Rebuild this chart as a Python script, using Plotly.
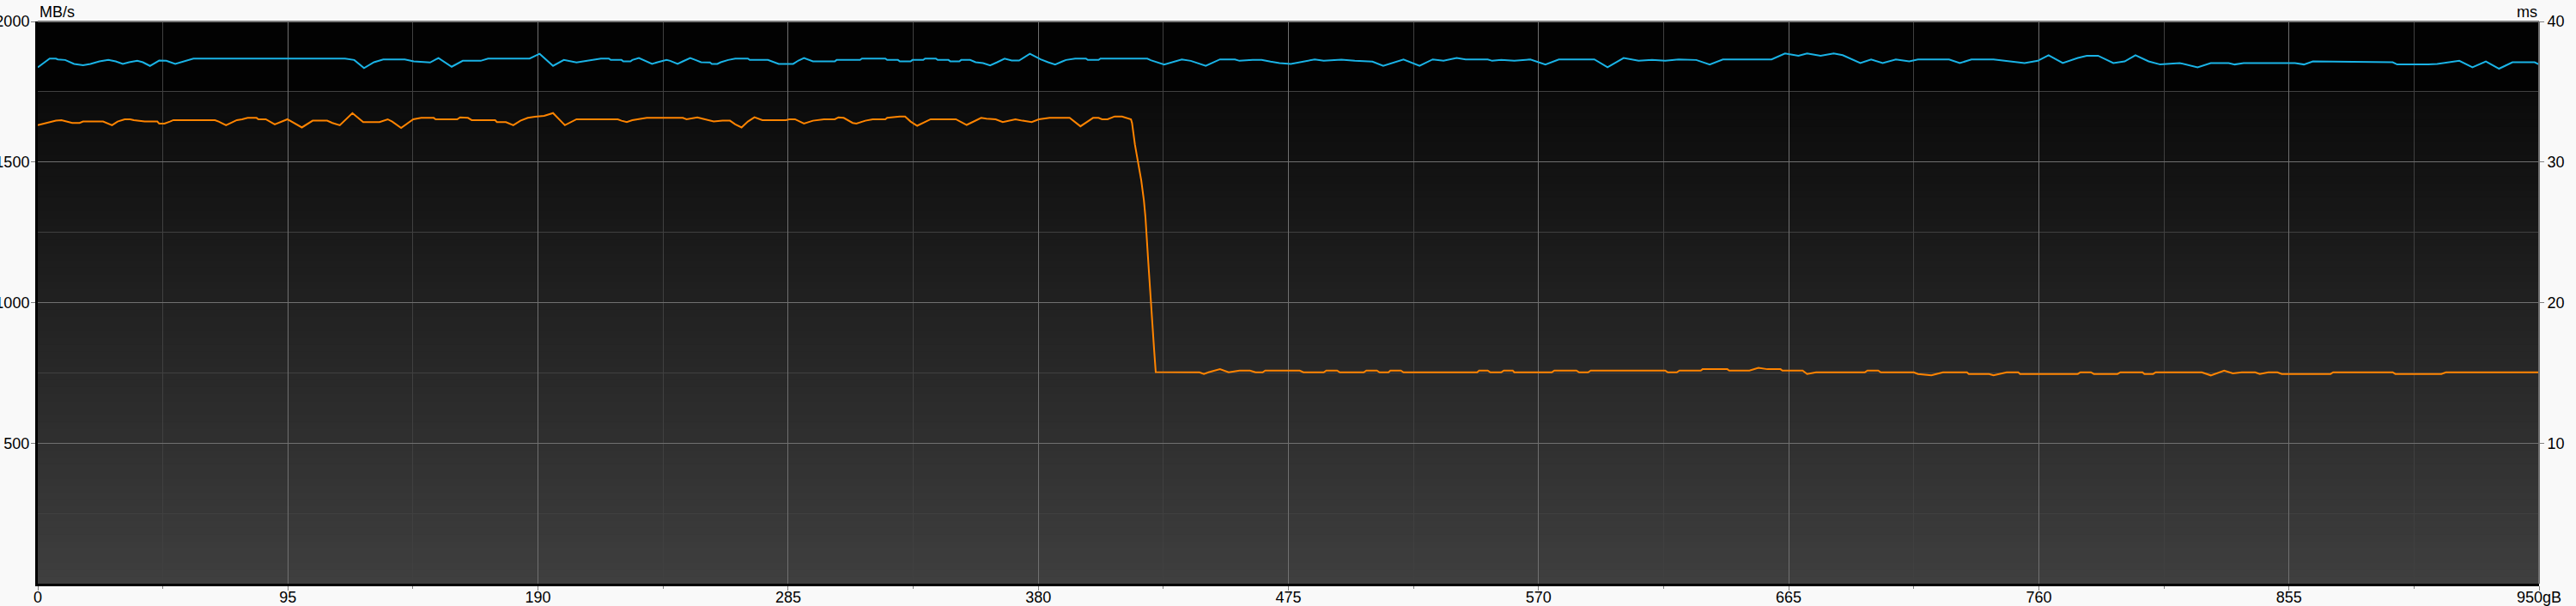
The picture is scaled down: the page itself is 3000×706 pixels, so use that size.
import plotly.graph_objects as go

# ---- data ----
x_label_alias = {"950": "950gB"}
y_left_ticks = [500, 1000, 1500, 2000]
y_left_minor = [250, 750, 1250, 1750]
y_right_ticks = [10, 20, 30, 40]

read_x = [0, 4.5, 6.9, 7.6, 10.4, 12.4, 13.8, 17.2, 20, 23.4, 26.8, 29.6, 32.3, 34.7, 37.8, 39.9, 42.6,
          46.1, 48.8, 52.2, 55, 59.1, 116.7, 120.2, 123.9, 127.7, 131.2, 139.4, 142.8, 149, 152.2, 157.2,
          161.4, 168.2, 171, 186.8, 190.6, 195.7, 199.8, 204.6, 208.7, 213.9,
          216.9, 217.6, 221.7, 222.4, 225.1, 225.8, 228.3, 230.6, 233.3, 235.4, 238.8, 240.2, 243, 245,
          247.8, 249.8, 251.9, 255.3, 256, 258.1, 259.4, 262.2, 264.9, 269.7, 270.4, 277.3, 279.3, 281.4,
          286.9, 288.9, 291, 293.1, 294.4, 302.7, 303.4, 312.3, 313, 321.9, 322.6, 326.7, 327.4, 331.5,
          332.2, 336.3, 337, 341.1, 341.8, 345.9, 346.6, 350, 350.7, 354.1, 356.2, 359, 361.7, 364.4,
          367.2, 369.9, 372.7, 376.8, 380.9, 383.7, 386.4, 389.2, 390.5, 394, 398.1, 398.8, 402.9, 403.6,
          421.4, 422.7,
          427.8, 434.5, 437.9, 443.6, 449, 454.7, 456.4, 461.4, 464.8, 468.2, 471.6, 475.9, 481.7, 485,
          488.4, 495.1, 500.2, 506.9, 511, 518.7, 524.8, 529.8, 533.9, 538.9, 542.3, 550.7, 552.4, 555.8,
          560.8, 566.9, 572.6, 577.7, 591.2, 596.2, 602.3, 608, 613.1, 618.1, 623.2, 629.9, 635, 640,
          658.5, 663.6, 668.7, 672, 677.1, 682.1, 685.5, 692.2, 696.3, 700.7, 705.7, 710.8, 714.1, 725.9,
          730, 734.4, 742.8, 749.5, 754.6, 759.6, 763.7, 769.1, 774.8, 778.2, 782.5, 788.3, 792.6, 796.7,
          801.7, 806.1, 813.5, 820.3, 825.3, 832.1, 834.4, 837.8, 857.3, 860.7, 864.1, 894.4, 896.1, 907.9,
          911.3, 919.7, 924.7, 929.8, 934.8, 939.9, 948.3, 950]
read_y = [1837, 1868, 1868, 1865, 1863, 1855, 1849, 1844, 1849, 1858, 1863, 1858, 1849, 1855, 1860, 1855, 1842,
          1861, 1860, 1849, 1857, 1868, 1868, 1863, 1834, 1855, 1865, 1865, 1858, 1854, 1870, 1839,
          1860, 1860, 1868, 1868, 1885, 1842, 1863, 1854, 1860, 1868,
          1868, 1863, 1863, 1858, 1858, 1863, 1870, 1861, 1849, 1855, 1863, 1860, 1849, 1858,
          1870, 1863, 1855, 1854, 1849, 1849, 1855, 1863, 1868, 1868, 1863, 1863, 1855, 1849,
          1849, 1861, 1870, 1863, 1858, 1858, 1863, 1863, 1868, 1868, 1863, 1863, 1858, 1858,
          1863, 1863, 1868, 1868, 1863, 1863, 1858, 1858, 1863, 1863, 1855, 1852, 1844, 1855,
          1868, 1861, 1861, 1885, 1865, 1855, 1847, 1858, 1863, 1868, 1868, 1863, 1863, 1868,
          1868, 1862,
          1847, 1865, 1860, 1842, 1865, 1865, 1860, 1863, 1863, 1857, 1852, 1849, 1860, 1865,
          1860, 1864, 1860, 1857, 1842, 1865, 1842, 1865, 1860, 1870, 1865, 1865, 1860, 1863,
          1860, 1865, 1847, 1865, 1865, 1837, 1870, 1860, 1863, 1860, 1865, 1863, 1847, 1865,
          1865, 1886, 1878, 1886, 1878, 1886, 1880, 1852, 1865, 1852, 1865, 1858, 1865, 1865,
          1852, 1865, 1865, 1858, 1852, 1860, 1880, 1852, 1870, 1878, 1878, 1852, 1858, 1880,
          1858, 1847, 1852, 1837, 1852, 1852, 1847, 1852, 1852, 1847, 1858, 1855, 1847, 1847,
          1849, 1860, 1837, 1858, 1832, 1855, 1855, 1847]

write_x = [0, 3.5, 6.9, 9, 11.1, 13.1, 15.9, 17.2, 24.8, 26.2, 28.2, 30.3, 33, 35.1, 36.5, 40.6, 45.4, 46.1,
           48.1, 50.2, 51.5, 67.3, 68.7, 71.5, 73.5, 75.6, 77.6, 79.7, 83.1, 83.8, 86.6, 90, 94.8, 100.3,
           104.4, 109.9, 111.9, 114.7, 119.5, 123.6, 129.8, 132.9, 134.6, 138, 142.6, 145.6, 150.4, 151.1,
           159.3, 160.4, 163.4, 164.8, 173.7, 174.4, 177.8, 180.6, 183.3, 186.1, 188.8, 192.3, 195.7, 200.2,
           204.6, 220.3, 221.7, 223.7, 225.8, 231.3, 245, 246.4, 250.5, 253.9, 256.7, 260.1, 262.9, 264.9,
           267.3, 269.7, 272.2, 275.2, 284.1, 285.5, 287.6, 291, 293.1, 294.4, 298.6, 302.7, 304.1, 306.1,
           309.5, 310.9, 314.3, 317.1, 321.9, 322.6, 327.4, 329.4, 331.5, 334, 339.1, 348.7, 352.8, 358.3,
           360.3, 363.8, 366.5, 369.2, 371.3, 374, 377.5, 380.2, 384.3, 391.9, 396, 400.8, 402.9, 404.2,
           406.3, 409, 411.8, 415.2,
           415.6, 416.7, 417.9, 419.1, 420.1, 420.7, 421.8, 422.8, 424, 424.6,
           441.2, 442.9, 444.6, 449, 452.3, 456.4, 460.4, 462.5, 465.2, 466.2, 479.3, 480.7, 488.4, 489.4,
           493.5, 494.5, 503.6, 504.6, 508.6, 509.6, 513, 513.7, 517.7, 518.7, 546.7, 547.4, 550.7, 551.7,
           555.8, 556.8, 560.2, 560.8, 575, 576, 584.4, 585.4, 588.8, 589.8, 618.1, 619.1, 622.5, 623.5,
           631.6, 632.3, 641.7, 642.4, 650.1, 653.5, 656.9, 661.9, 662.6, 670.3, 672, 675.4, 693.9, 694.9,
           699, 700, 712.5, 714.1, 719.2, 723.6, 732.7, 733.4, 741.1, 742.8, 747.8, 752.2, 752.9, 774.8,
           775.8, 779.8, 780.9, 789.9, 791, 799.4, 800.1, 803.4, 804.4, 821.9, 825.3, 830.4, 833.7, 837.1,
           842.2, 843.9, 847.2, 850.6, 852.3, 870.8, 871.8, 894.4, 895.4, 912.9, 914.6, 950]
write_y = [1631, 1639, 1647, 1649, 1644, 1639, 1639, 1644, 1644, 1639, 1631, 1644, 1652, 1652, 1649, 1644, 1644, 1637,
           1637, 1644, 1649, 1649, 1644, 1631, 1639, 1649, 1652, 1657, 1657, 1652, 1652, 1634, 1652, 1623,
           1647, 1647, 1639, 1631, 1674, 1642, 1642, 1652, 1644, 1621, 1652, 1657, 1657, 1652,
           1652, 1659, 1657, 1649, 1649, 1642, 1642, 1631, 1647, 1657, 1661, 1664, 1674, 1631,
           1652, 1652, 1647, 1642, 1649, 1657, 1657, 1652, 1659, 1652, 1644, 1647, 1647, 1634,
           1623, 1644, 1659, 1649, 1649, 1652, 1652, 1637, 1642, 1647, 1652, 1652, 1659, 1657,
           1639, 1637, 1647, 1652, 1652, 1657, 1662, 1662, 1644, 1629, 1652, 1652, 1632, 1657,
           1654, 1652, 1642, 1647, 1652, 1647, 1642, 1652, 1657, 1657, 1627, 1657, 1657, 1652,
           1652, 1662, 1662, 1652,
           1639, 1562, 1501, 1435, 1364, 1303, 1140, 987, 830, 753,
           752, 746, 752, 763, 752, 758, 758, 752, 752, 758, 758, 752, 752, 758,
           758, 752, 752, 758, 758, 752, 752, 758, 758, 752, 752, 758, 758, 752,
           752, 758, 758, 752, 752, 758, 758, 752, 752, 758, 758, 752, 752, 758,
           758, 763, 763, 758, 758, 768, 763, 763, 758, 758, 746, 752, 752, 758,
           758, 752, 752, 746, 741, 752, 752, 746, 746, 741, 752, 752, 746, 746,
           752, 752, 746, 746, 752, 752, 746, 746, 752, 752, 741, 758, 748, 752,
           752, 746, 752, 752, 746, 746, 752, 752, 746, 746, 752, 752]

# ---- figure ----
FONT = dict(family="Liberation Sans, Arial, sans-serif", size=18, color="#000000")

fig = go.Figure()
fig.add_trace(go.Scatter(x=read_x, y=read_y, mode="lines",
                         line=dict(color="#1ab3e6", width=2), hoverinfo="skip"))
fig.add_trace(go.Scatter(x=write_x, y=write_y, mode="lines",
                         line=dict(color="#ff8400", width=2), hoverinfo="skip"))
# empty trace so the right-hand (ms) axis is drawn
fig.add_trace(go.Scatter(x=[], y=[], yaxis="y2", mode="lines", hoverinfo="skip"))

# background gradient bands (domain coords inside plot area), slightly overlapping to avoid seams
shapes = []
N = 70
top_frac = 1750 / 2000
for i in range(N):
    f0 = top_frac * i / N
    f1 = min(top_frac * (i + 1) / N + 0.004, top_frac)
    t = (i + 0.5) / N
    g = int(round(63 + (10 - 63) * t))
    shapes.append(dict(type="rect", xref="x domain", yref="y domain", x0=0, x1=1, y0=f0, y1=f1,
                       fillcolor=f"rgb({g},{g},{g})", line=dict(width=0), layer="below"))
shapes.append(dict(type="rect", xref="x domain", yref="y domain", x0=0, x1=1, y0=top_frac, y1=1,
                   fillcolor="rgb(2,2,2)", line=dict(width=0), layer="below"))
# top and right frame lines
shapes.append(dict(type="line", xref="x domain", yref="y domain", x0=0, x1=1, y0=1, y1=1,
                   line=dict(color="#7a7a7a", width=2), layer="above"))
shapes.append(dict(type="line", xref="x domain", yref="y domain", x0=1, x1=1, y0=0, y1=1,
                   line=dict(color="#707070", width=2), layer="above"))

fig.update_layout(
    width=3000, height=706,
    margin=dict(l=44, r=43, t=25, b=26, pad=0),
    paper_bgcolor="#f9f9f9", plot_bgcolor="#000000",
    showlegend=False, font=FONT, shapes=shapes,
    xaxis=dict(range=[0, 950], tickmode="linear", tick0=0, dtick=95, labelalias=x_label_alias,
               ticks="outside", ticklen=5, tickcolor="#808080", tickwidth=1, ticklabelstandoff=-8,
               showgrid=True, gridcolor="#707070", gridwidth=1, zeroline=False,
               showline=True, linecolor="#000000", linewidth=3, automargin=False,
               minor=dict(tick0=0, dtick=47.5, showgrid=True, gridcolor="#404040", gridwidth=1,
                          ticks="outside", ticklen=3, tickcolor="#808080"),
               tickfont=FONT, fixedrange=True),
    yaxis=dict(range=[0, 2000], tickmode="array", tickvals=y_left_ticks,
               ticks="outside", ticklen=5, tickcolor="#808080", tickwidth=1, ticklabelstandoff=-2,
               showgrid=True, gridcolor="#707070", gridwidth=1, zeroline=False,
               showline=True, linecolor="#000000", linewidth=3, automargin=False,
               minor=dict(tickmode="array", tickvals=y_left_minor, showgrid=True,
                          gridcolor="#404040", gridwidth=1, ticks=""),
               tickfont=FONT, fixedrange=True),
    yaxis2=dict(range=[0, 40], overlaying="y", side="right", tickmode="array", tickvals=y_right_ticks,
                ticks="outside", ticklen=5, tickcolor="#808080", showgrid=False, zeroline=False,
                showline=False, tickfont=FONT, fixedrange=True, automargin=False),
    annotations=[
        dict(text="MB/s", xref="paper", yref="paper", x=0, y=1, xanchor="left", yanchor="bottom",
             showarrow=False, font=FONT, yshift=-1),
        dict(text="ms", xref="paper", yref="paper", x=1, y=1, xanchor="right", yanchor="bottom",
             showarrow=False, font=FONT, yshift=-1),
    ],
)

fig.write_html("out.html", config={"displayModeBar": False},
               post_script="document.body.style.margin='0';document.body.style.overflow='hidden';")
